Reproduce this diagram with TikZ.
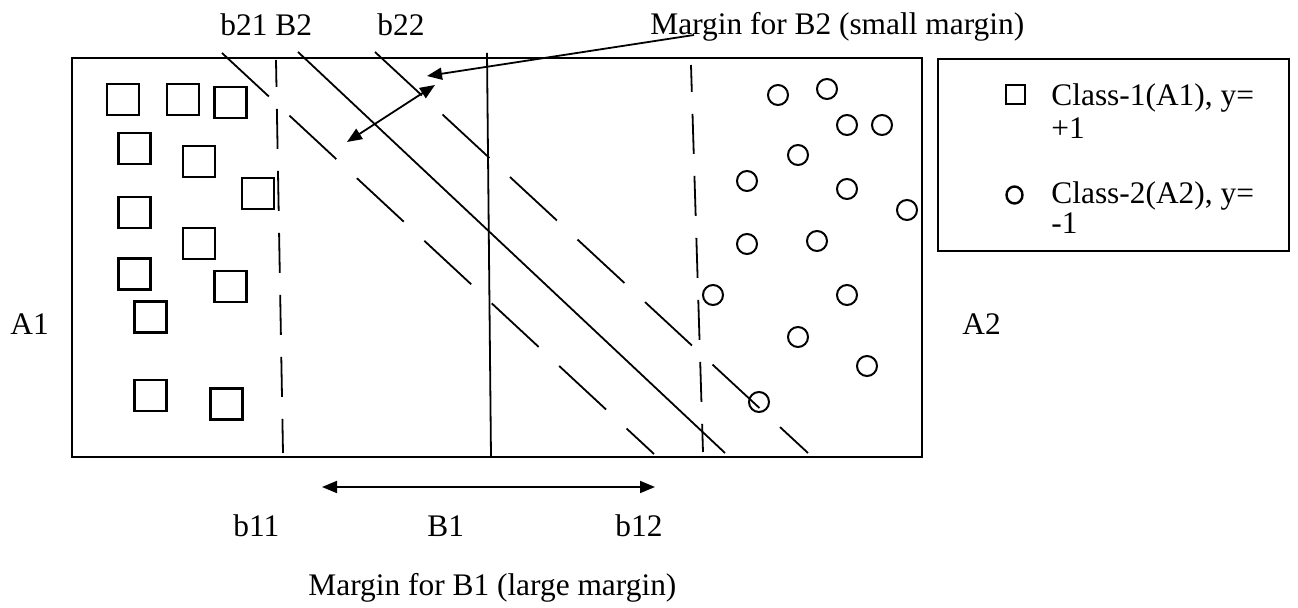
\documentclass[tikz,border=0pt]{standalone}
\usepackage{fontspec}
\setmainfont{Liberation Serif}
\usetikzlibrary{arrows.meta,shapes.geometric}
\begin{document}
\begin{tikzpicture}[x=0.5pt,y=-0.5pt,
  lbl/.style={anchor=base west,inner sep=0pt,font=\fontsize{15.7}{18}\selectfont},
  frame/.style={line width=1.4pt},
  sq/.style={draw,line width=1.2pt,minimum width=16pt,minimum height=15.5pt,inner sep=0pt},
  ci/.style={draw,circle,line width=1pt,minimum size=10pt,inner sep=0pt},
  solidln/.style={line width=0.9pt},
  ddash/.style={line width=0.9pt,dash pattern=on 32pt off 14pt},
  vdash/.style={line width=0.9pt,dash pattern=on 20pt off 11pt,dash phase=6.5pt},
  tipr/.style={-{Triangle[length=7.5pt,width=6pt]}},
  tipb/.style={{Triangle[length=7.5pt,width=6pt]}-{Triangle[length=7.5pt,width=6pt]}},
]
\useasboundingbox (0,0) rectangle (1298,608);

% frames
\draw[frame] (72,58) rectangle (922,457);
\draw[line width=1.2pt] (938,59) rectangle (1289,251);

% class-1 squares
\node[sq] (s1) at (123,99.5) {};
\node[sq] (s2) at (183,99.5) {};
\node[sq] (s3) at (230.5,102.5) {};
\node[sq] (s4) at (134.5,148.5) {};
\node[sq] (s5) at (199,161.5) {};
\node[sq] (s6) at (258,193.5) {};
\node[sq] (s7) at (134.5,212.5) {};
\node[sq] (s8) at (199,243.5) {};
\node[sq] (s9) at (134.5,274) {};
\node[sq] (s10) at (230.5,286.5) {};
\node[sq] (s11) at (150.5,317) {};
\node[sq] (s12) at (150.5,395.5) {};
\node[sq] (s13) at (226.5,404) {};

% class-2 circles
\node[ci] (c1) at (778,95) {};
\node[ci] (c2) at (827,89) {};
\node[ci] (c3) at (847,125) {};
\node[ci] (c4) at (882,125) {};
\node[ci] (c5) at (798,155) {};
\node[ci] (c6) at (747,181) {};
\node[ci] (c7) at (847,189) {};
\node[ci] (c8) at (907,210) {};
\node[ci] (c9) at (747,244) {};
\node[ci] (c10) at (817,241) {};
\node[ci] (c11) at (713,295) {};
\node[ci] (c12) at (847,295) {};
\node[ci] (c13) at (798,337) {};
\node[ci] (c14) at (867,366) {};
\node[ci] (c15) at (759,402) {};

% hyperplanes
\coordinate (b21s) at (222,53);  \coordinate (b21e) at (654,454);
\coordinate (B2s) at (298,52);   \coordinate (B2e) at (725,453);
\coordinate (b22s) at (375,52);  \coordinate (b22e) at (808,453);
\coordinate (b11s) at (276,60);  \coordinate (b11e) at (283,453);
\coordinate (B1s) at (487,53);   \coordinate (B1e) at (491,457);
\coordinate (b12s) at (691,65);  \coordinate (b12e) at (703,452);
\draw[ddash] (b21s) -- (b21e);
\draw[solidln] (B2s) -- (B2e);
\draw[ddash] (b22s) -- (b22e);
\draw[vdash] (b11s) -- (b11e);
\draw[solidln] (B1s) -- (B1e);
\draw[vdash] (b12s) -- (b12e);

% margin arrows
\coordinate (m2l) at (347,142); \coordinate (m2r) at (435,85);
\draw[solidln,tipb] (m2l) -- (m2r);
\coordinate (mtxt) at (694,35); \coordinate (mtgt) at (427,76);
\draw[solidln,tipr] (mtxt) -- (mtgt);
\coordinate (m1l) at (322,487); \coordinate (m1r) at (655,487);
\draw[solidln,tipb] (m1l) -- (m1r);

% labels
\node[lbl] (tb21) at (220,36) {b21 B2};
\node[lbl] (tb22) at (377,36) {b22};
\node[lbl] (tm2) at (650,35) {Margin for B2 (small margin)};
\node[lbl] (ta1) at (10,335) {A1};
\node[lbl] (ta2) at (962,335) {A2};
\node[lbl] (tb11) at (233,537) {b11};
\node[lbl] (tB1) at (427,537) {B1};
\node[lbl] (tb12) at (615,537) {b12};
\node[lbl] (tm1) at (308,596) {Margin for B1 (large margin)};

% legend
\node[draw,line width=0.6pt,minimum width=9.5pt,minimum height=9.5pt,inner sep=0pt] (lsq) at (1015.5,94.5) {};
\node[lbl] (l1) at (1051,106) {Class-1(A1), y=};
\node[lbl] (l1b) at (1051,139) {+1};
\node[draw,ellipse,line width=1.2pt,minimum width=8pt,minimum height=8.5pt,inner sep=0pt] (lci) at (1014.5,195) {};
\node[lbl] (l2) at (1051,204) {Class-2(A2), y=};
\node[lbl] (l2b) at (1051,234) {-1};
\end{tikzpicture}
\end{document}
